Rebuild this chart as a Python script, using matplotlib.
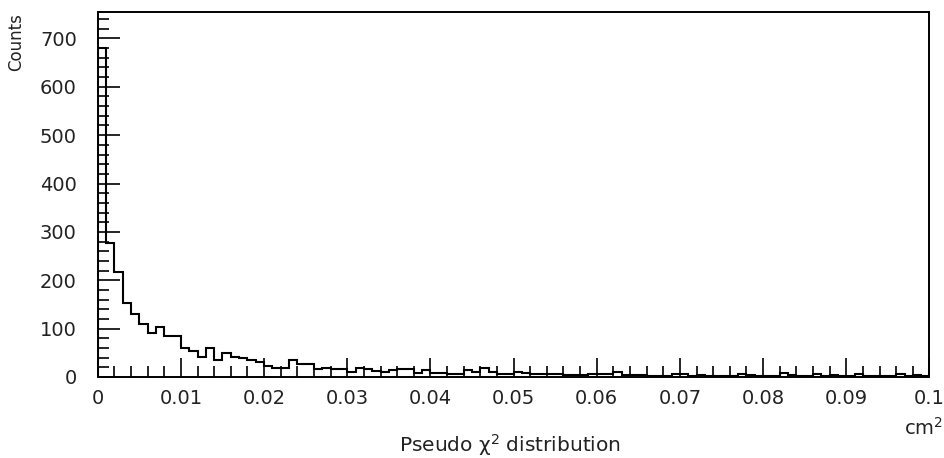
import numpy as np
import matplotlib
matplotlib.use("Agg")
import matplotlib.pyplot as plt
from matplotlib.ticker import MultipleLocator, FixedLocator

plt.rcParams['font.family'] = ['DejaVu Sans']

# histogram: 100 bins from 0 to 0.1 cm^2
bin_lo = 0.0
bin_hi = 0.1
counts = [
    680, 278, 218, 152, 131, 110, 90, 103, 85, 85,
    59, 54, 41, 59, 35, 50, 42, 40, 35, 30,
    23, 19, 18, 36, 27, 27, 17, 18, 17, 17,
    11, 18, 17, 13, 11, 15, 17, 17, 8, 14,
    8, 8, 6, 6, 15, 10, 18, 11, 6, 7,
    10, 8, 7, 6, 6, 6, 4, 5, 5, 6,
    6, 6, 10, 5, 4, 5, 3, 3, 2, 6,
    6, 3, 4, 3, 3, 3, 3, 6, 5, 3,
    3, 3, 8, 5, 3, 3, 6, 3, 5, 3,
    3, 6, 3, 3, 3, 3, 6, 3, 5, 2,
]
x_ticks = [0, 0.01, 0.02, 0.03, 0.04, 0.05, 0.06, 0.07, 0.08, 0.09, 0.1]
x_ticklabels = ['0', '0.01', '0.02', '0.03', '0.04', '0.05', '0.06', '0.07', '0.08', '0.09', '0.1']
y_ticks = [0, 100, 200, 300, 400, 500, 600, 700]
y_max = 754

edges = np.linspace(bin_lo, bin_hi, len(counts) + 1)

fig = plt.figure(figsize=(9.44, 4.58), dpi=100)
ax = fig.add_axes([0.1035, 0.1769, 0.8811, 0.7962])

ax.stairs(counts, edges, color='black', linewidth=1.5)

ax.set_xlim(bin_lo, bin_hi)
ax.set_ylim(0, y_max)

ax.xaxis.set_major_locator(FixedLocator(x_ticks))
ax.set_xticklabels(x_ticklabels)
ax.xaxis.set_minor_locator(MultipleLocator(0.002))
ax.yaxis.set_major_locator(FixedLocator(y_ticks))
ax.yaxis.set_minor_locator(MultipleLocator(20))

ax.tick_params(axis='both', which='both', direction='in', top=False, right=False,
               colors='black', labelcolor='#222222', labelsize=14, width=1.2)
ax.tick_params(axis='y', which='major', length=16, pad=15)
ax.tick_params(axis='y', which='minor', length=8)
ax.tick_params(axis='x', which='major', length=14, pad=8.5)
ax.tick_params(axis='x', which='minor', length=8)

for s in ax.spines.values():
    s.set_linewidth(1.4)
    s.set_color('black')

fig.text(0.008, 0.972, 'Counts', rotation=90, ha='left', va='top',
         fontsize=12, color='#222222')
fig.text(0.999, 0.050, 'cm$^2$', ha='right', va='baseline',
         fontsize=14, color='#222222')
fig.text(0.540, 0.013, 'Pseudo χ$^2$ distribution', ha='center', va='baseline',
         fontsize=14.5, color='#222222')

fig.savefig('out.png', dpi=100, facecolor='white')
